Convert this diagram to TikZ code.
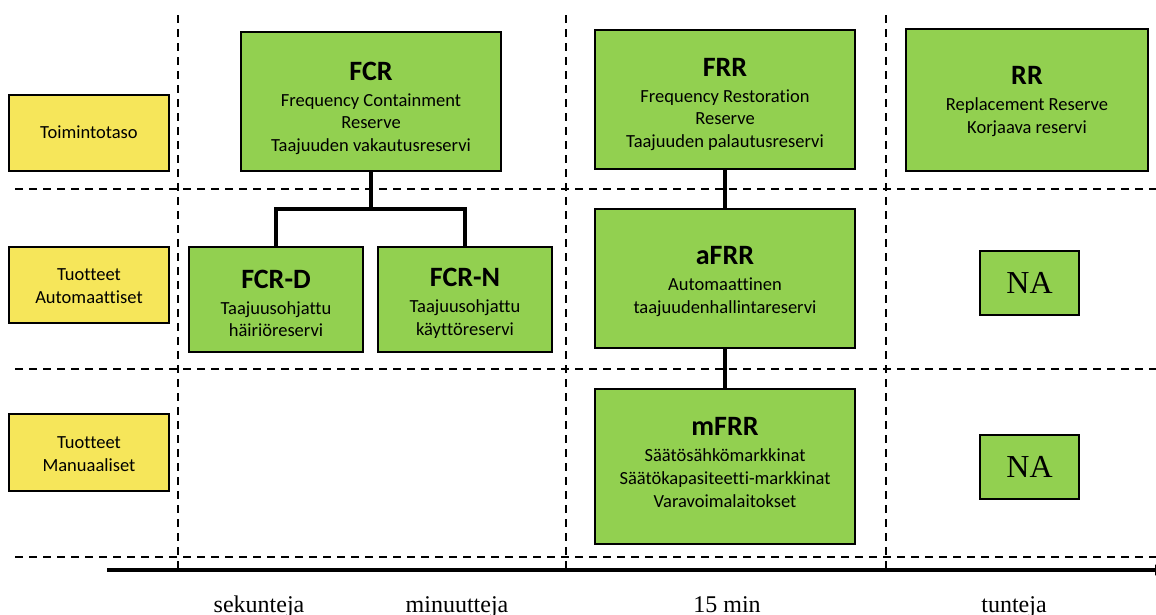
\documentclass[tikz,border=0pt]{standalone}
\usepackage{fontspec}
\setmainfont[Ligatures=NoCommon]{Carlito}
\newfontfamily\timesfont{Liberation Serif}
\usetikzlibrary{arrows.meta}
\definecolor{resgreen}{HTML}{92D050}
\definecolor{levelyellow}{HTML}{F6E65A}
\begin{document}
\begin{tikzpicture}[x=1pt,y=-1pt,
  every node/.style={inner sep=0pt,outer sep=0pt},
  sepline/.style={dashed,line width=1.3pt,dash pattern=on 8pt off 6pt},
  boxtext/.style={align=center,font=\fontsize{18.5}{22.7}\selectfont},
  levelbox/.style={draw=black,line width=1.5pt,fill=levelyellow},
  resbox/.style={draw=black,line width=1.5pt,fill=resgreen},
  natag/.style={draw=black,line width=1.5pt,fill=resgreen,
    minimum width=99pt,minimum height=64pt,font=\timesfont\fontsize{32}{32}\selectfont},
  conn/.style={line width=3.2pt,line join=miter},
  axisline/.style={line width=3.4pt,-{Latex[length=12pt,width=12pt]}},
  timelabel/.style={anchor=base,font=\timesfont\fontsize{24}{24}\selectfont},
]
\useasboundingbox (0,0) rectangle (1156,614);

% time axis and column / row separators
\coordinate (axstart) at (107,570);
\coordinate (axend) at (1167,570);
\foreach \x in {178,566,886}
  \draw[sepline] (\x,15) -- (\x,570);
\foreach \y in {189,369,557}
  \draw[sepline] (15,\y) -- (1156,\y);
\draw[axisline] (axstart) -- (axend);

% level labels
\node[levelbox,minimum width=160pt,minimum height=76pt] (lvl1) at (89,133) {};
\node[levelbox,minimum width=160pt,minimum height=76pt] (lvl2) at (89,285) {};
\node[levelbox,minimum width=160pt,minimum height=77pt] (lvl3) at (89,452.5) {};
\node[boxtext,yshift=1pt] (lvl1txt) at (lvl1.center) {Toimintotaso};
\node[boxtext,yshift=-1pt] (lvl2txt) at (lvl2.center) {Tuotteet\\Automaattiset};
\node[boxtext,yshift=-1.5pt] (lvl3txt) at (lvl3.center) {Tuotteet\\Manuaaliset};

% reserve boxes
\newcommand{\restitle}[1]{{\fontsize{28}{28}\selectfont\bfseries #1}\\[3pt]}
\node[resbox,minimum width=260pt,minimum height=139pt] (fcr) at (371,101.5) {};
\node[resbox,minimum width=174pt,minimum height=105pt] (fcrd) at (276,299.5) {};
\node[resbox,minimum width=174pt,minimum height=105pt] (fcrn) at (465,299.5) {};
\node[resbox,minimum width=260pt,minimum height=139pt] (frr) at (725,99.5) {};
\node[resbox,minimum width=260pt,minimum height=139pt] (afrr) at (725,278.5) {};
\node[resbox,minimum width=260pt,minimum height=155pt] (mfrr) at (725,466.5) {};
\node[resbox,minimum width=242pt,minimum height=142pt] (rr) at (1027,100) {};
\node[natag] (na1) at (1029.5,283) {NA};
\node[natag] (na2) at (1029.5,467) {NA};

\node[boxtext,yshift=-7pt] (fcrtxt) at (fcr.center)
  {\restitle{FCR}Frequency Containment\\Reserve\\Taajuuden vakautusreservi};
\node[boxtext,yshift=-4pt] (fcrdtxt) at (fcrd.center)
  {\restitle{FCR-D}Taajuusohjattu\\häiriöreservi};
\node[boxtext,yshift=-4pt] (fcrntxt) at (fcrn.center)
  {\restitle{FCR-N}Taajuusohjattu\\käyttöreservi};
\node[boxtext,yshift=-5pt] (frrtxt) at (frr.center)
  {\restitle{FRR}Frequency Restoration\\Reserve\\Taajuuden palautusreservi};
\node[boxtext,yshift=-3pt] (afrrtxt) at (afrr.center)
  {\restitle{aFRR}Automaattinen\\taajuudenhallintareservi};
\node[boxtext,yshift=4pt] (mfrrtxt) at (mfrr.center)
  {\restitle{mFRR}Säätösähkömarkkinat\\Säätökapasiteetti-markkinat\\Varavoimalaitokset};
\node[boxtext,yshift=-1.5pt] (rrtxt) at (rr.center)
  {\restitle{RR}Replacement Reserve\\Korjaava reservi};

% connectors
\coordinate (fcrsplit) at (371,209);
\draw[conn] (fcr.south) -- (fcrsplit);
\draw[conn] (fcrd.north) |- (fcrsplit) -| (fcrn.north);
\draw[conn] (frr.south) -- (afrr.north);
\draw[conn] (afrr.south) -- (mfrr.north);

% time scale labels
\node[timelabel] (t1) at (259,612) {sekunteja};
\node[timelabel] (t2) at (457,612) {minuutteja};
\node[timelabel] (t3) at (727,612) {15 min};
\node[timelabel] (t4) at (1014,612) {tunteja};
\end{tikzpicture}
\end{document}
